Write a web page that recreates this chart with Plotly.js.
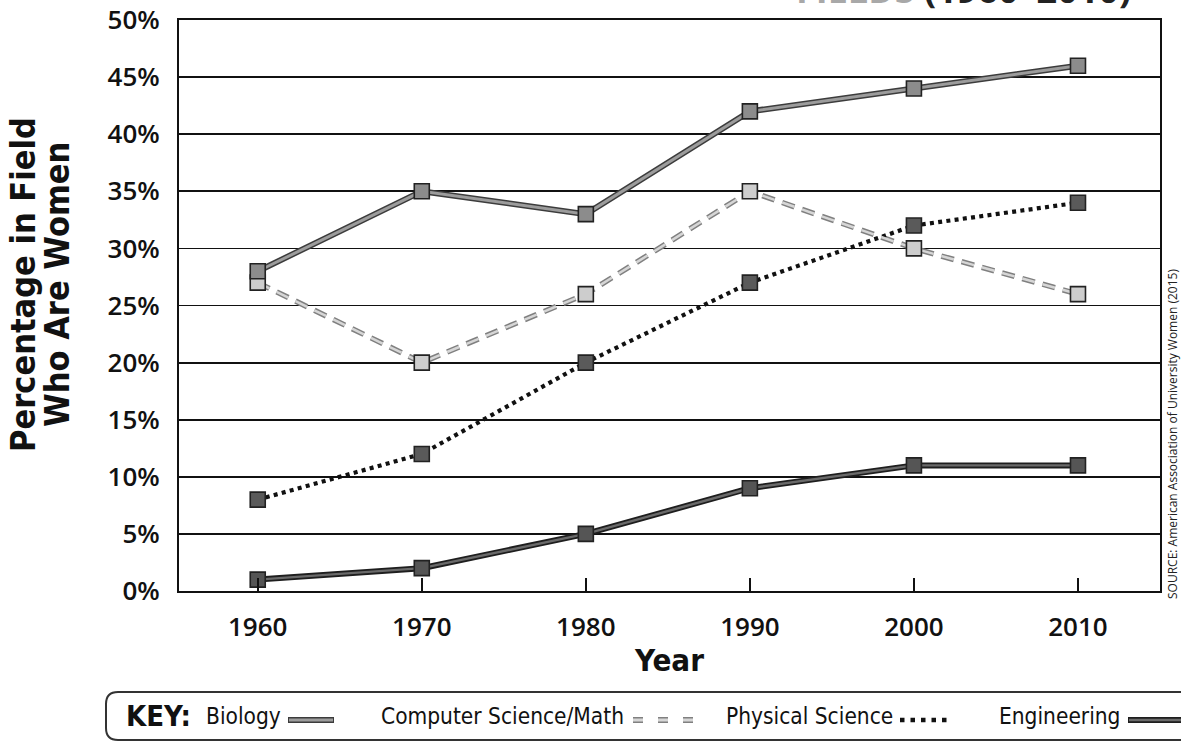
<!DOCTYPE html>
<html>
<head>
<meta charset="utf-8">
<script src="https://cdn.plot.ly/plotly-3.0.1.min.js"></script>
<style>html,body{margin:0;padding:0;background:#fff;}#chart{width:1181px;height:745px;}</style>
</head>
<body>
<div id="chart"></div>
<script>
// ---- data ----
const years = [1960, 1970, 1980, 1990, 2000, 2010];
const biology = [28, 35, 33, 42, 44, 46];
const csMath = [27, 20, 26, 35, 30, 26];
const physicalScience = [8, 12, 20, 27, 32, 34];
const engineering = [1, 2, 5, 9, 11, 11];
const yTickVals = [0, 5, 10, 15, 20, 25, 30, 35, 40, 45, 50];
const yTickText = ['0%', '5%', '10%', '15%', '20%', '25%', '30%', '35%', '40%', '45%', '50%'];
const keyLabels = ['Biology', 'Computer Science/Math', 'Physical Science', 'Engineering'];
const yTitleLines = ['Percentage in Field', 'Who Are Women'];

// ---- layout geometry ----
const L = 179, T = 20, W = 981, H = 571;
const px = x => (x - L) / W;
const py = y => (T + H - y) / H;

const NARROW = '"Liberation Sans Narrow", "DejaVu Sans Condensed", "DejaVu Sans", sans-serif';
const TICKF = '"Open Sans", "Noto Sans", sans-serif';

function under(y, color, width, dash) {
  return {x: years, y: y, mode: 'lines', showlegend: false, hoverinfo: 'skip',
    line: {color: color, width: width, dash: dash || 'solid'}};
}
function over(y, color, width, dash, mcolor, name) {
  return {x: years, y: y, mode: 'lines+markers', name: name, showlegend: false,
    line: {color: color, width: width, dash: dash || 'solid'},
    marker: {symbol: 'square', size: 15, color: mcolor, line: {color: '#222', width: 1.6}}};
}

const traces = [
  under(biology, '#3c3c3c', 6),
  under(csMath, '#808080', 5.5, '13px,8px'),
  under(engineering, '#1e1e1e', 6),
  over(physicalScience, '#111', 4.2, '4px,4.3px', '#5a5a5a', keyLabels[2]),
  over(csMath, '#d6d6d6', 2.5, '13px,8px', '#cdcdcd', keyLabels[1]),
  over(engineering, '#6a6a6a', 2.4, 'solid', '#555', keyLabels[3]),
  over(biology, '#9c9c9c', 3, 'solid', '#8c8c8c', keyLabels[0])
];

const keyY = py(716);
const annotations = [
  {xref: 'paper', yref: 'paper', x: px(1133), y: py(16), xanchor: 'right', yanchor: 'bottom', showarrow: false,
   text: '<span style="color:#a8a8a8">FIELDS</span> (1960–2010)',
   font: {family: TICKF, size: 36, color: '#222', weight: 700}},
  {xref: 'paper', yref: 'paper', x: px(1172), y: py(434), xanchor: 'center', yanchor: 'middle', textangle: -90, showarrow: false,
   text: 'SOURCE: American Association of University Women (2015)',
   font: {family: TICKF, size: 12, color: '#222'}},
  {xref: 'paper', yref: 'paper', x: px(23), y: py(285), xanchor: 'center', yanchor: 'middle', textangle: -90, showarrow: false,
   text: yTitleLines[0], font: {family: NARROW, size: 34, color: '#111', weight: 700}},
  {xref: 'paper', yref: 'paper', x: px(57), y: py(285), xanchor: 'center', yanchor: 'middle', textangle: -90, showarrow: false,
   text: yTitleLines[1], font: {family: NARROW, size: 34, color: '#111', weight: 700}},
  {xref: 'paper', yref: 'paper', x: px(124), y: keyY, xanchor: 'left', yanchor: 'middle', showarrow: false,
   text: 'KEY:', font: {family: NARROW, size: 29, color: '#111', weight: 700}},
  {xref: 'paper', yref: 'paper', x: px(204), y: keyY, xanchor: 'left', yanchor: 'middle', showarrow: false,
   text: keyLabels[0], font: {family: NARROW, size: 22.5, color: '#111'}},
  {xref: 'paper', yref: 'paper', x: px(379), y: keyY, xanchor: 'left', yanchor: 'middle', showarrow: false,
   text: keyLabels[1], font: {family: NARROW, size: 22.5, color: '#111'}},
  {xref: 'paper', yref: 'paper', x: px(724), y: keyY, xanchor: 'left', yanchor: 'middle', showarrow: false,
   text: keyLabels[2], font: {family: NARROW, size: 22.5, color: '#111'}},
  {xref: 'paper', yref: 'paper', x: px(997), y: keyY, xanchor: 'left', yanchor: 'middle', showarrow: false,
   text: keyLabels[3], font: {family: NARROW, size: 22.5, color: '#111'}}
];

// key box: rounded on the left, open to the right edge
const bx0 = px(106), bx1 = px(1190), by0 = py(692), by1 = py(740);
const rx = 12 / W, ry = 12 / H;
const boxPath = `M ${bx1} ${by0} L ${bx0 + rx} ${by0} Q ${bx0} ${by0} ${bx0} ${by0 - ry} ` +
  `L ${bx0} ${by1 + ry} Q ${bx0} ${by1} ${bx0 + rx} ${by1} L ${bx1} ${by1}`;
const sy = py(720);
const shapes = [
  {type: 'path', xref: 'paper', yref: 'paper', path: boxPath, line: {color: '#333', width: 2}},
  {type: 'line', xref: 'paper', yref: 'paper', x0: px(288), x1: px(334), y0: sy, y1: sy, line: {color: '#3c3c3c', width: 6}},
  {type: 'line', xref: 'paper', yref: 'paper', x0: px(289), x1: px(333), y0: sy, y1: sy, line: {color: '#9c9c9c', width: 3}},
  {type: 'line', xref: 'paper', yref: 'paper', x0: px(633), x1: px(704), y0: sy, y1: sy, line: {color: '#808080', width: 6, dash: '10px,15px'}},
  {type: 'line', xref: 'paper', yref: 'paper', x0: px(633), x1: px(704), y0: sy, y1: sy, line: {color: '#d6d6d6', width: 3, dash: '10px,15px'}},
  {type: 'line', xref: 'paper', yref: 'paper', x0: px(900), x1: px(952), y0: sy, y1: sy, line: {color: '#111', width: 4.5, dash: '4.5px,6px'}},
  {type: 'line', xref: 'paper', yref: 'paper', x0: px(1128), x1: px(1182), y0: sy, y1: sy, line: {color: '#1e1e1e', width: 6}},
  {type: 'line', xref: 'paper', yref: 'paper', x0: px(1129), x1: px(1182), y0: sy, y1: sy, line: {color: '#6a6a6a', width: 2.5}}
];

const layout = {
  width: 1181, height: 745,
  margin: {l: L, r: 1181 - L - W, t: T, b: 745 - T - H},
  paper_bgcolor: '#fff', plot_bgcolor: '#fff',
  showlegend: false,
  xaxis: {
    range: [1955.2, 2015.0], tickvals: years, ticktext: years.map(String),
    ticks: 'inside', ticklen: 13, tickwidth: 2, tickcolor: '#111',
    showgrid: false, zeroline: false, showline: true, linecolor: '#111', linewidth: 2, mirror: true,
    ticklabelstandoff: 12,
    tickfont: {family: TICKF, size: 26, color: '#111', weight: 600},
    title: {text: 'Year', standoff: 6, font: {family: NARROW, size: 31, color: '#111', weight: 700}}
  },
  yaxis: {
    range: [0, 50], tickvals: yTickVals, ticktext: yTickText,
    ticks: '', showgrid: true, gridcolor: '#111', gridwidth: 1.8,
    zeroline: false, showline: true, linecolor: '#111', linewidth: 2, mirror: true,
    ticklabelstandoff: 12,
    tickfont: {family: TICKF, size: 26, color: '#111', weight: 600}
  },
  annotations: annotations,
  shapes: shapes
};

Plotly.newPlot('chart', traces, layout, {displayModeBar: false, staticPlot: true});
</script>
</body>
</html>
